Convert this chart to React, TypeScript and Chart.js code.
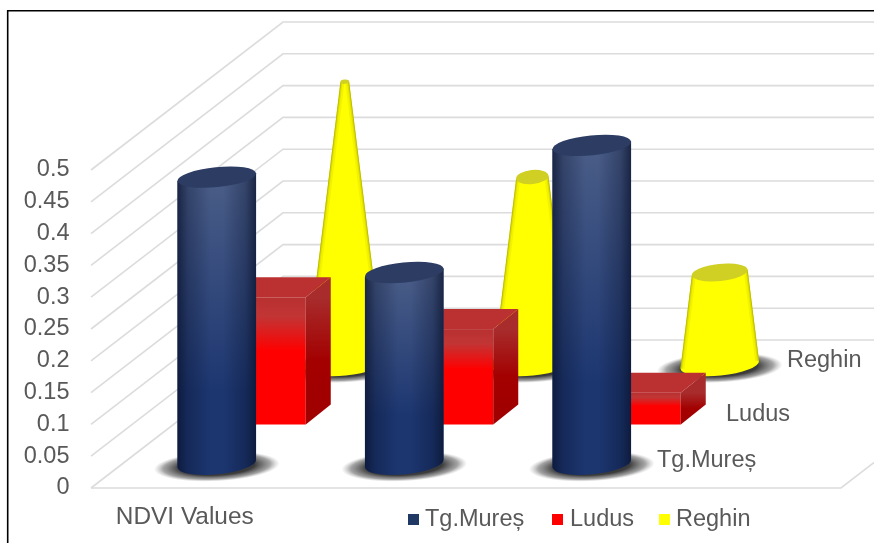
import React, { useEffect, useRef } from "react";
import { Chart, registerables } from "chart.js";

Chart.register(...registerables);

// Chart values: one entry per group along the x axis.
const categories = ["NDVI Values", "", "", ""];
const tgMures = [0.45, 0.3, 0.5];
const ludus = [0.2, 0.15, 0.05];
const reghin = [0.445, 0.295, 0.145];
const seriesNames = ["Tg.Mureș", "Ludus", "Reghin"];
const seriesColors = ["#1f3864", "#ff0000", "#ffff00"];
const yMax = 0.5;
const yStep = 0.05;

// Oblique projection of the depth axis.
const WIDTH = 874;
const HEIGHT = 543;
const DEPTH_X = 192;
const DEPTH_Y = -148;
const ROWS = 3;
const TILT = -0.1;
const ROUND_RX = 39.5;
const ROUND_RY = 11;
const TEXT = "#595959";
const GRID = "#dcdcdc";
const FONT = '"Liberation Sans", Arial, sans-serif';

const rowOffset = (row: number) => ({
  dx: (DEPTH_X / ROWS) * (row + 0.5),
  dy: (DEPTH_Y / ROWS) * (row + 0.5),
});

function drawFloorShadow(ctx: CanvasRenderingContext2D, cx: number, cy: number) {
  ctx.save();
  ctx.translate(cx, cy + 3);
  ctx.rotate(TILT / 2);
  ctx.scale(63, 15);
  const g = ctx.createRadialGradient(0, 0, 0, 0, 0, 1);
  g.addColorStop(0, "rgba(40,40,40,1)");
  g.addColorStop(0.6, "rgba(50,50,50,0.95)");
  g.addColorStop(0.85, "rgba(90,90,90,0.55)");
  g.addColorStop(1, "rgba(150,150,150,0)");
  ctx.fillStyle = g;
  ctx.beginPath();
  ctx.arc(0, 0, 1, 0, Math.PI * 2);
  ctx.fill();
  ctx.restore();
}

function roundBody(
  ctx: CanvasRenderingContext2D,
  cx: number,
  baseY: number,
  topY: number,
  topRx: number,
) {
  const cos = Math.cos(TILT);
  const sin = Math.sin(TILT);
  ctx.beginPath();
  ctx.moveTo(cx - topRx * cos, topY - topRx * sin);
  ctx.lineTo(cx - ROUND_RX * cos, baseY - ROUND_RX * sin);
  ctx.ellipse(cx, baseY, ROUND_RX, ROUND_RY, TILT, Math.PI, 0, true);
  ctx.lineTo(cx + topRx * cos, topY + topRx * sin);
  ctx.closePath();
}

function drawCylinder(ctx: CanvasRenderingContext2D, cx: number, baseY: number, h: number) {
  const topY = baseY - h;
  roundBody(ctx, cx, baseY, topY, ROUND_RX);
  ctx.fillStyle = "#1c3670";
  ctx.fill();
  // Pale sheen fading downwards, then darkened flanks for the curvature.
  const haze = ctx.createLinearGradient(0, topY, 0, baseY);
  haze.addColorStop(0, "rgba(200,200,200,0.27)");
  haze.addColorStop(0.75, "rgba(200,200,200,0)");
  ctx.fillStyle = haze;
  ctx.fill();
  const flanks = ctx.createLinearGradient(cx - ROUND_RX, 0, cx + ROUND_RX, 0);
  flanks.addColorStop(0, "rgba(8,16,42,0.72)");
  flanks.addColorStop(0.14, "rgba(8,16,42,0.32)");
  flanks.addColorStop(0.42, "rgba(8,16,42,0)");
  flanks.addColorStop(0.58, "rgba(8,16,42,0)");
  flanks.addColorStop(0.86, "rgba(8,16,42,0.32)");
  flanks.addColorStop(1, "rgba(8,16,42,0.72)");
  ctx.fillStyle = flanks;
  ctx.fill();
  ctx.fillStyle = "#2c3c62";
  ctx.beginPath();
  ctx.ellipse(cx, topY, ROUND_RX, ROUND_RY - 1, TILT, 0, Math.PI * 2);
  ctx.fill();
}

function drawBox(ctx: CanvasRenderingContext2D, cx: number, baseY: number, h: number) {
  const left = cx - 50;
  const right = cx + 25;
  const bottom = baseY + 10.5;
  const top = bottom - h;
  const dx = 25;
  const dy = -20;

  const front = ctx.createLinearGradient(0, top, 0, bottom);
  front.addColorStop(0, "#b83030");
  front.addColorStop(0.15, "#c23535");
  front.addColorStop(0.42, "#ff0000");
  front.addColorStop(1, "#ff0000");
  ctx.fillStyle = front;
  ctx.fillRect(left, top, right - left, h);

  const side = ctx.createLinearGradient(0, top, 0, bottom);
  side.addColorStop(0, "#a82c2c");
  side.addColorStop(0.5, "#a30000");
  side.addColorStop(1, "#a00000");
  ctx.fillStyle = side;
  ctx.beginPath();
  ctx.moveTo(right, top);
  ctx.lineTo(right + dx, top + dy);
  ctx.lineTo(right + dx, bottom + dy);
  ctx.lineTo(right, bottom);
  ctx.closePath();
  ctx.fill();

  ctx.fillStyle = "#bb3030";
  ctx.beginPath();
  ctx.moveTo(left, top);
  ctx.lineTo(left + dx, top + dy);
  ctx.lineTo(right + dx, top + dy);
  ctx.lineTo(right, top);
  ctx.closePath();
  ctx.fill();
}

function drawCone(ctx: CanvasRenderingContext2D, cx: number, baseY: number, h: number, value: number) {
  const topY = baseY - h;
  // The cone narrows linearly and would reach its apex at the axis maximum.
  const ratio = 1 - value / yMax;
  const topRx = Math.max(ROUND_RX * ratio, 3);
  const topRy = Math.min(topRx * 0.5, 5 + 5 * ratio);

  ctx.save();
  roundBody(ctx, cx, baseY, topY, topRx);
  ctx.fillStyle = "#ffff00";
  ctx.fill();
  ctx.clip();
  const cos = Math.cos(TILT);
  const sin = Math.sin(TILT);
  [-1, 1].forEach((side) => {
    const sx = cx + side * topRx * cos;
    const sy = topY + side * topRx * sin;
    const ex = cx + side * ROUND_RX * cos;
    const ey = baseY + side * ROUND_RX * sin;
    const strokes: [number, string][] = [
      [8, "rgba(190,190,0,0.18)"],
      [4, "rgba(170,170,0,0.28)"],
      [1.6, "rgba(130,130,0,0.4)"],
    ];
    strokes.forEach(([w, c]) => {
      ctx.lineWidth = w;
      ctx.strokeStyle = c;
      ctx.beginPath();
      ctx.moveTo(sx, sy);
      ctx.lineTo(ex, ey);
      ctx.stroke();
    });
  });
  ctx.restore();

  ctx.fillStyle = "#cfcf24";
  ctx.beginPath();
  ctx.ellipse(cx, topY, topRx, topRy, TILT, 0, Math.PI * 2);
  ctx.fill();
}

const sceneryPlugin = {
  id: "scenery",
  beforeDraw(chart: any) {
    const { ctx } = chart;
    ctx.save();
    ctx.fillStyle = "#ffffff";
    ctx.fillRect(0, 0, WIDTH, HEIGHT);
    ctx.strokeStyle = "#000000";
    ctx.lineWidth = 1.6;
    ctx.beginPath();
    ctx.moveTo(7.7, HEIGHT);
    ctx.lineTo(7.7, 10.8);
    ctx.lineTo(WIDTH, 10.8);
    ctx.stroke();
    ctx.restore();
  },
  // Replaces the flat bars with the solids, projected from the chart's own scales.
  beforeDatasetsDraw(chart: any) {
    const { ctx, scales, chartArea } = chart;
    const { x, y } = scales;
    const y0 = y.getPixelForValue(0);

    ctx.save();
    ctx.strokeStyle = GRID;
    ctx.lineWidth = 1.6;
    y.ticks.forEach((t: any) => {
      const py = y.getPixelForValue(t.value);
      ctx.beginPath();
      ctx.moveTo(chartArea.left, py);
      ctx.lineTo(chartArea.left + DEPTH_X, py + DEPTH_Y);
      ctx.lineTo(WIDTH, py + DEPTH_Y);
      ctx.stroke();
    });
    ctx.beginPath();
    ctx.moveTo(chartArea.left, y0);
    ctx.lineTo(chartArea.right, y0);
    ctx.lineTo(chartArea.right + DEPTH_X, y0 + DEPTH_Y);
    ctx.stroke();

    // Painter's order: the rear row first, the front row last.
    for (let row = ROWS - 1; row >= 0; row--) {
      const { dx, dy } = rowOffset(row);
      const values = chart.data.datasets[row].data as number[];
      values.forEach((value, i) => {
        const cx = x.getPixelForValue(i) + dx;
        const baseY = y0 + dy;
        const h = y0 - y.getPixelForValue(value);
        if (row === 0) {
          drawFloorShadow(ctx, cx, baseY);
          drawCylinder(ctx, cx, baseY, h);
        } else if (row === 1) {
          drawBox(ctx, cx, baseY, h);
        } else {
          drawFloorShadow(ctx, cx, baseY);
          drawCone(ctx, cx, baseY, h, value);
        }
      });
    }
    ctx.restore();
    return false;
  },
  afterDraw(chart: any) {
    const { ctx } = chart;
    ctx.save();
    ctx.font = `23.5px ${FONT}`;
    ctx.fillStyle = TEXT;
    ctx.textBaseline = "middle";
    ctx.textAlign = "left";

    // Row names beside the depth axis.
    const depthX = [657, 726, 787];
    const depthY = [461, 415, 361];
    seriesNames.forEach((name, i) => ctx.fillText(name, depthX[i], depthY[i]));

    // Legend.
    const swatchX = [408, 552, 659];
    const labelX = [425, 570, 676];
    seriesNames.forEach((name, i) => {
      ctx.fillStyle = seriesColors[i];
      ctx.fillRect(swatchX[i], 514, 11, 11);
      ctx.fillStyle = TEXT;
      ctx.fillText(name, labelX[i], 520);
    });
    ctx.restore();
  },
};

export default function App() {
  const ref = useRef<HTMLCanvasElement | null>(null);

  useEffect(() => {
    if (!ref.current) return;
    const font = { family: FONT, size: 23.5 };
    const chart = new Chart(ref.current, {
      type: "bar",
      data: {
        labels: categories,
        datasets: [tgMures, ludus, reghin].map((data, i) => ({
          label: seriesNames[i],
          data,
          backgroundColor: seriesColors[i],
        })),
      },
      options: {
        responsive: false,
        animation: false,
        layout: { padding: { top: 170, right: 33, left: 0, bottom: 0 } },
        plugins: { legend: { display: false }, tooltip: { enabled: false } },
        scales: {
          x: {
            grid: { display: false, drawTicks: false },
            border: { display: false },
            ticks: {
              color: TEXT,
              font: { family: FONT, size: 24.4 },
              padding: 15,
              autoSkip: false,
              maxRotation: 0,
              minRotation: 0,
            },
            afterFit(scale: any) {
              scale.height = 55;
            },
          },
          y: {
            min: 0,
            max: yMax,
            grid: { display: false, drawTicks: false },
            border: { display: false },
            ticks: {
              stepSize: yStep,
              color: TEXT,
              font,
              padding: 21.5,
              callback: (v: any) => String(Number(Number(v).toFixed(2))),
            },
            afterFit(scale: any) {
              scale.width = 91;
            },
          },
        },
      },
      plugins: [sceneryPlugin],
    } as any);
    return () => chart.destroy();
  }, []);

  return (
    <div style={{ position: "fixed", left: 0, top: 0, width: WIDTH, height: HEIGHT, background: "#fff" }}>
      <canvas ref={ref} width={WIDTH} height={HEIGHT} style={{ display: "block" }} />
    </div>
  );
}
